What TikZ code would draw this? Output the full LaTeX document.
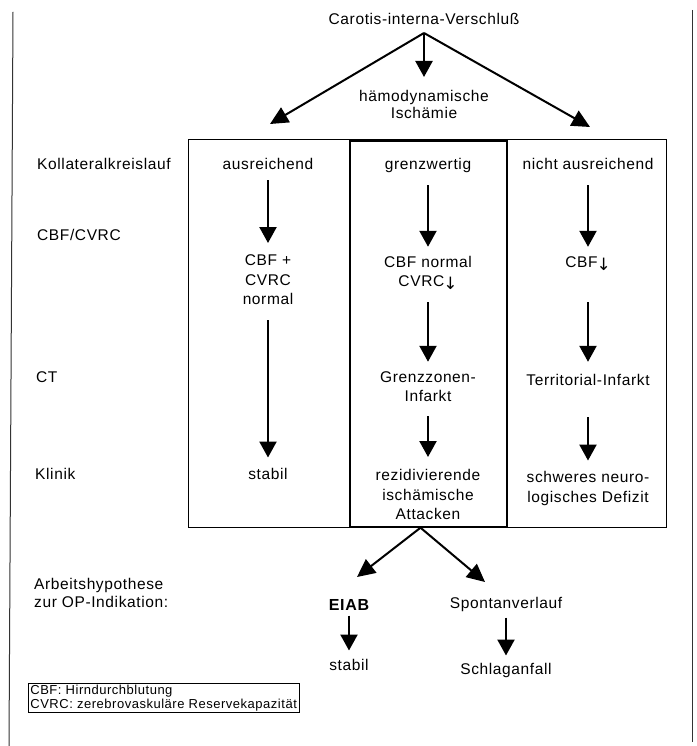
\documentclass[tikz,border=0pt]{standalone}
\usepackage{fontspec}
\setmainfont{Liberation Sans}[LetterSpace=4]
\newfontfamily\dvfont{DejaVu Sans}
\usetikzlibrary{arrows.meta}
\newcommand\lstr{\rule[-3.3pt]{0pt}{14.6pt}}
\newcommand\dnarr{\kern-1pt\raisebox{-3pt}{\dvfont\fontsize{17}{17}\selectfont ↓}}
\begin{document}
\begin{tikzpicture}[x=1pt,y=-1pt,
  txt/.style={font=\fontsize{15.5}{19.5}\selectfont, inner sep=0pt, align=center},
  lbl/.style={font=\fontsize{15.5}{18}\selectfont, inner sep=0pt, anchor=west, align=left},
  arr/.style={line width=2.3pt, -{Triangle[length=16pt,width=17pt]}, shorten <=11.5pt, shorten >=10pt},
  diag/.style={line width=2pt, -{Triangle[length=18pt,width=17pt]}},
  boxx/.style={draw, line width=1pt, inner sep=0pt},
  frameline/.style={line width=1pt, black!80}]
\useasboundingbox (0,0) rectangle (696,746);
% scan frame lines
\draw[frameline] (13,12) -- (9,746);
\draw[frameline] (692,10) -- (692,742);
% boxes
\node[boxx, minimum width=478pt, minimum height=387pt] (outer) at (427,333.5) {};
\node[boxx, line width=1.4pt, minimum width=157pt, minimum height=386pt] (mbox) at (428.5,334) {};
% top
\node[txt] (t) at (424,21) {\lstr Carotis-interna-Verschluß};
\coordinate (br) at (424,33);
\node[txt, font=\fontsize{15.5}{17}\selectfont] (h) at (424,106) {\lstr hämodynamische\\\lstr Ischämie};
\coordinate (tl) at (270,124);
\coordinate (tr) at (590,127);
\draw[line width=2.3pt, -{Triangle[length=16pt,width=17pt]}, shorten >=13pt] (br) -- (h);
\draw[diag] (br) -- (tl);
\draw[diag] (br) -- (tr);
% row labels
\node[lbl] (rk) at (37,166) {\lstr Kollateralkreislauf};
\node[lbl] (rc) at (37,236) {\lstr CBF/CVRC};
\node[lbl] (rct) at (36,378) {\lstr CT};
\node[lbl] (rkl) at (35,475) {\lstr Klinik};
\node[lbl] (ra) at (34,594) {\lstr Arbeitshypothese\\\lstr zur OP-Indikation:};
% column 1
\node[txt] (c1a) at (268,166) {\lstr ausreichend};
\node[txt] (c1b) at (268,281) {\lstr CBF +\\\lstr CVRC\\\lstr normal};
\node[txt] (c1c) at (268,475) {\lstr stabil};
\draw[arr, shorten <=6.7pt, shorten >=11pt] (c1a) -- (c1b);
\draw[arr, shorten <=12.2pt] (c1b) -- (c1c);
% column 2
\node[txt] (c2a) at (428,166) {\lstr grenzwertig};
\node[txt] (c2b) at (428,273) {\lstr CBF normal\\\lstr CVRC\dnarr};
\node[txt] (c2c) at (428,388) {\lstr Grenzzonen-\\\lstr Infarkt};
\node[txt] (c2d) at (428,496) {\lstr rezidivierende\\\lstr ischämische\\\lstr Attacken};
\draw[arr, shorten >=9pt] (c2a) -- (c2b);
\draw[arr, shorten <=12pt, shorten >=9pt] (c2b) -- (c2c);
\draw[arr, shorten <=11pt, shorten >=12pt] (c2c) -- (c2d);
% column 3
\node[txt] (c3a) at (588,166) {\lstr nicht ausreichend};
\node[txt] (c3b) at (588,263) {\lstr CBF\dnarr};
\node[txt] (c3c) at (588,381) {\lstr Territorial-Infarkt};
\node[txt] (c3d) at (588,488.5) {\lstr schweres neuro-\\\lstr logisches Defizit};
\draw[arr, shorten >=8.7pt] (c3a) -- (c3b);
\draw[arr, shorten <=31.7pt, shorten >=11.7pt] (c3b) -- (c3c);
\draw[arr, shorten <=28.7pt, shorten >=10.7pt] (c3c) -- (c3d);
% bottom
\coordinate (bl) at (357,577);
\coordinate (bR) at (485,582);
\draw[diag] ([xshift=-8pt]mbox.south) -- (bl);
\draw[diag] ([xshift=-8pt]mbox.south) -- (bR);
\node[txt, font=\fontsize{16}{19.5}\selectfont\bfseries] (eiab) at (349,606) {\lstr EIAB};
\node[txt] (s2) at (349,666) {\lstr stabil};
\node[txt] (sp) at (506,604) {\lstr Spontanverlauf};
\node[txt] (sch) at (506,670) {\lstr Schlaganfall};
\draw[arr, shorten <=2pt, shorten >=8pt] (eiab) -- (s2);
\draw[arr, shorten <=6pt, shorten >=7pt] (sp) -- (sch);
% legend
\node[draw, line width=0.8pt, anchor=north west, inner xsep=2pt, inner ysep=1.5pt, align=left,
  font=\fontsize{13}{14}\selectfont] (leg) at (28,683)
  {CBF: Hirndurchblutung\\CVRC: zerebrovaskuläre Reservekapazität};
\end{tikzpicture}
\end{document}
